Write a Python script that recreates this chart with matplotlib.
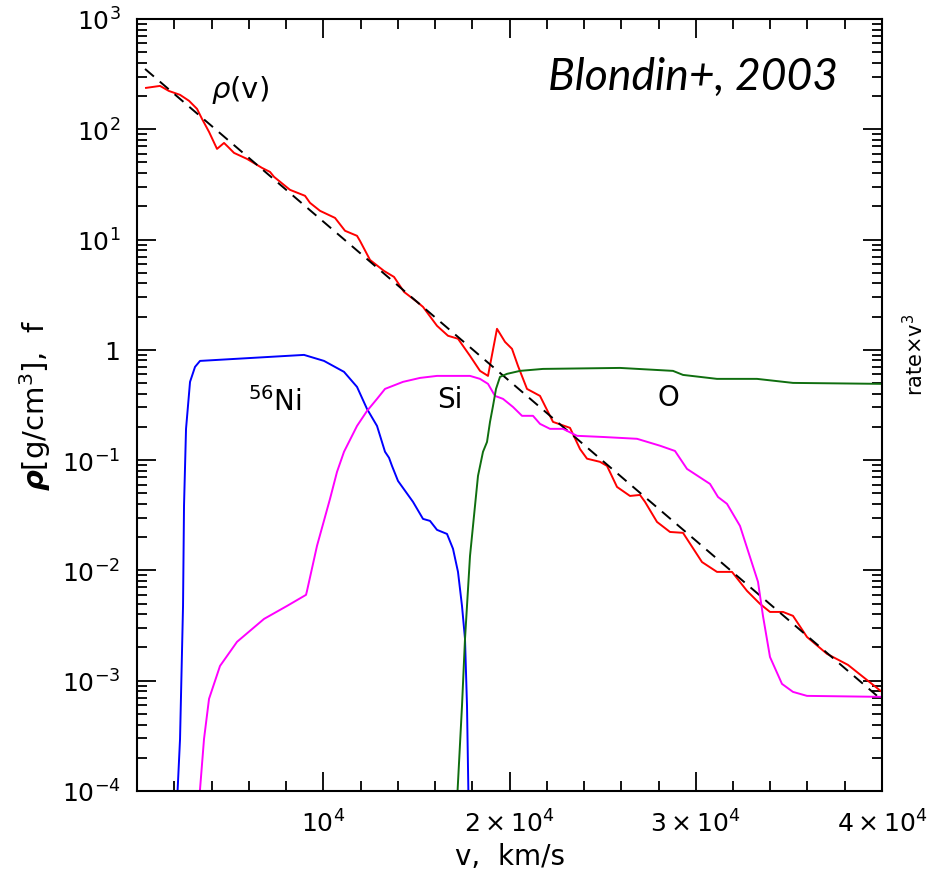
import numpy as np
import matplotlib.pyplot as plt
from matplotlib.ticker import FixedLocator, MultipleLocator, NullFormatter

# density profile rho(v), g/cm^3
v_rho = [483, 1235, 1718, 2309, 2792, 3221, 3490, 3866, 4295, 4671, 4886, 5208,
         5906, 6711, 7141, 7356, 8215, 9020, 9288, 9825, 10631, 11168, 11812,
         11973, 12510, 13261, 13798, 14335, 15033, 15355, 16107, 16698, 17234,
         17879, 18416, 18845, 19328, 19758, 20134, 20456, 20939, 21637, 22335,
         23248, 23785, 24161, 24859, 25235, 25772, 26469, 27006, 27275, 27919,
         28617, 29315, 30335, 31140, 31946, 32751, 33449, 33986, 34684, 35221,
         35972, 37046, 38174, 40000]
rho = [237, 247, 222, 205, 181, 153, 124, 94.6, 66.3, 75.1, 69.2, 61.0,
       53.8, 44.6, 41.0, 37.0, 28.2, 24.9, 21.5, 18.2, 15.7, 12.0, 10.8,
       9.71, 6.53, 5.19, 4.58, 3.35, 2.72, 2.45, 1.65, 1.34, 1.26,
       0.881, 0.644, 0.580, 1.55, 1.18, 1.02, 0.714, 0.442, 0.382, 0.222,
       0.196, 0.126, 0.103, 0.0964, 0.0886, 0.0571, 0.0473, 0.0483, 0.0418, 0.0275,
       0.0223, 0.0219, 0.0119, 0.00969, 0.00969, 0.00652, 0.00497, 0.00420, 0.00420, 0.00387,
       0.00249, 0.00175, 0.00139, 0.00079]

# exponential fit
v_fit = [430, 39730]
rho_fit = [352, 7.3e-4]

# 56Ni fraction
v_ni = [2150, 2309, 2470, 2523, 2631, 2846, 3114, 3382, 8966, 10040, 11114,
        11812, 12349, 12886, 13315, 13530, 13691, 14013, 14818, 15355, 15731,
        16107, 16644, 16966, 17234, 17449, 17610, 17718, 17800]
f_ni = [8e-5, 2.96e-4, 4.76e-3, 0.0385, 0.192, 0.512, 0.700, 0.793, 0.899, 0.793, 0.631,
        0.461, 0.291, 0.204, 0.119, 0.105, 0.0885, 0.0647, 0.0418, 0.0293, 0.0281,
        0.0233, 0.0214, 0.0157, 0.00969, 0.00476, 0.00239, 5.9e-4, 8e-5]

# Si fraction
v_si = [3330, 3597, 3866, 4456, 5369, 6819, 8054, 9074, 9127, 9664, 10362,
        10738, 11114, 11812, 12349, 12886, 13315, 14281, 15194, 16107, 17879,
        18416, 18845, 19221, 19651, 20188, 20671, 21261, 21637, 22174, 22872,
        23624, 25020, 26845, 28080, 28885, 29530, 30765, 31194, 31678, 32375,
        33342, 33610, 33986, 34630, 35221, 35972, 40000]
f_si = [8e-5, 2.96e-4, 6.84e-4, 1.36e-3, 2.25e-3, 3.63e-3, 4.76e-3, 6.0e-3, 6.52e-3, 0.0167, 0.0445,
        0.0782, 0.119, 0.204, 0.279, 0.359, 0.442, 0.512, 0.556, 0.580, 0.580,
        0.545, 0.491, 0.382, 0.359, 0.303, 0.252, 0.252, 0.213, 0.192, 0.192,
        0.166, 0.162, 0.156, 0.135, 0.121, 0.0832, 0.0608, 0.0463, 0.0401, 0.0253,
        7.87e-3, 3.86e-3, 1.64e-3, 9.35e-4, 7.91e-4, 7.28e-4, 7.13e-4]

# O fraction
v_o = [17180, 17449, 17610, 17879, 18147, 18308, 18577, 18792, 18953, 19114,
       19275, 19489, 19865, 20563, 21798, 25932, 28778, 29315, 31140, 33288,
       35221, 40000]
f_o = [8e-5, 5.92e-4, 2.39e-3, 0.0135, 0.0385, 0.0719, 0.119, 0.146, 0.222, 0.310,
       0.442, 0.568, 0.605, 0.644, 0.671, 0.685, 0.644, 0.592, 0.545, 0.545,
       0.501, 0.491]

ytick_vals = [1e-4, 1e-3, 1e-2, 1e-1, 1, 1e1, 1e2, 1e3]
ytick_labels = ['$10^{-4}$', '$10^{-3}$', '$10^{-2}$', '$10^{-1}$', '1',
                '$10^{1}$', '$10^{2}$', '$10^{3}$']
xtick_vals = [1e4, 2e4, 3e4, 4e4]
xtick_labels = ['$10^{4}$', '$2\\times10^{4}$', '$3\\times10^{4}$', '$4\\times10^{4}$']

plt.rcParams['font.family'] = 'DejaVu Sans'
plt.rcParams['mathtext.fontset'] = 'dejavusans'

fig = plt.figure(figsize=(9.29, 8.78), dpi=100)
ax = fig.add_axes([0.1475, 0.098, 0.8019, 0.8793])

lw = 1.4
ax.plot(v_rho, rho, color='#ff0000', lw=lw)
ax.plot(v_fit, rho_fit, color='black', lw=lw, dashes=(6, 4))
ax.plot(v_ni, f_ni, color='#0000ff', lw=lw)
ax.plot(v_si, f_si, color='#ff00ff', lw=lw)
ax.plot(v_o, f_o, color='#0f6e0f', lw=lw)

ax.set_yscale('log')
ax.set_xlim(0, 4e4)
ax.set_ylim(1e-4, 1e3)

ax.yaxis.set_major_locator(FixedLocator(ytick_vals))
ax.set_yticklabels(ytick_labels)
minor_y = [m * 10.0**e for e in range(-4, 3) for m in range(2, 10)]
ax.yaxis.set_minor_locator(FixedLocator(minor_y))
ax.yaxis.set_minor_formatter(NullFormatter())

ax.xaxis.set_major_locator(FixedLocator(xtick_vals))
ax.set_xticklabels(xtick_labels)
ax.xaxis.set_minor_locator(MultipleLocator(2000))

ax.tick_params(which='both', direction='in', top=True, right=True, width=1.3)
ax.tick_params(which='major', length=14, labelsize=18)
ax.tick_params(axis='y', which='major', pad=12)
ax.tick_params(axis='x', which='major', pad=13)
ax.tick_params(which='minor', length=7)
for s in ax.spines.values():
    s.set_linewidth(1.5)

ax.set_xlabel('v,  km/s', fontsize=20, labelpad=4)
ax.set_ylabel('$\\boldsymbol{\\rho}$[g/cm$^3$],  f', fontsize=21, labelpad=6)

ax.text(5530, 232, '$\\rho$(v)', fontsize=21, ha='center', va='center')
ax.text(7409, 0.344, '$^{56}$Ni', fontsize=20, ha='center', va='center')
ax.text(16805, 0.359, 'Si', fontsize=20, ha='center', va='center')
ax.text(28510, 0.374, 'O', fontsize=20, ha='center', va='center')
ax.text(0.941, 0.926, 'Blondin+, 2003', transform=ax.transAxes, fontsize=32,
        family='Lato', style='italic', ha='right', va='center')

fig.text(0.998, 1 - 355 / 878, 'rate\u00d7v$^3$', rotation=90,
         fontsize=15, ha='right', va='center')

fig.savefig('out.png', dpi=100)
